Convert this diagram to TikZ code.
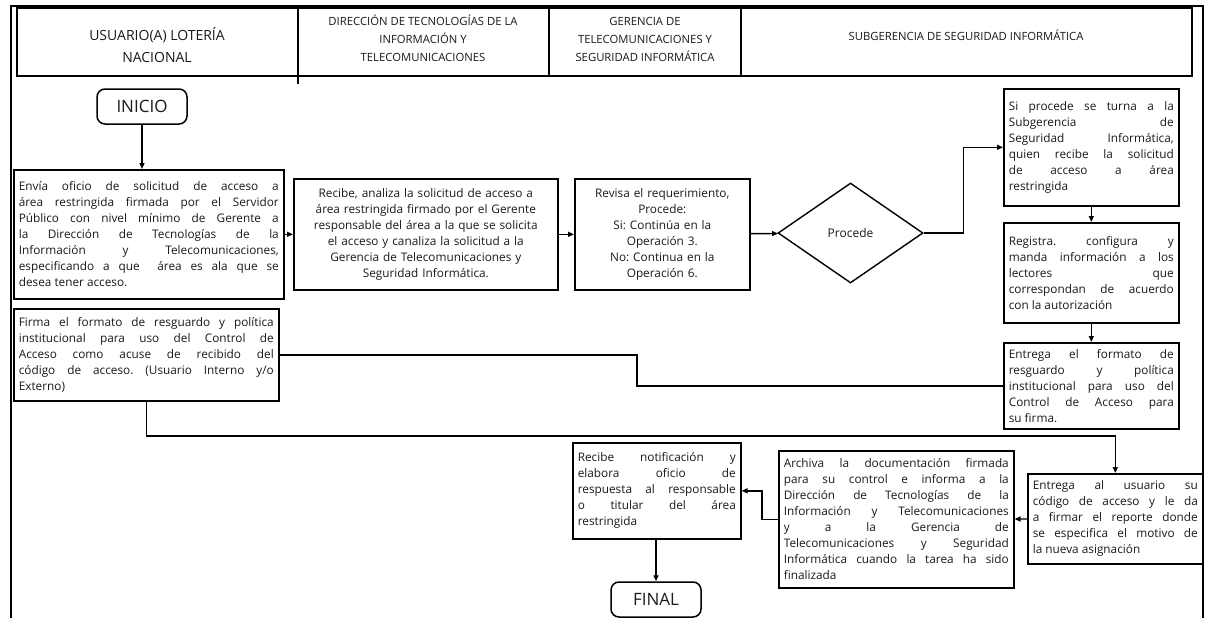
\documentclass[tikz,border=0pt]{standalone}
\usepackage{fontspec}
\setmainfont{Open Sans}
\usetikzlibrary{positioning, arrows.meta, shapes.geometric}
\frenchspacing
\newcommand\jset{\spaceskip=.26em plus 1fil\relax\xspaceskip=\spaceskip\relax\parfillskip=0pt plus 1fill\relax\hyphenpenalty=10000\relax}

\begin{document}
\begin{tikzpicture}[
    x=1pt, y=-1pt,
    every node/.style={text=black!90},
    lane/.style={align=center, inner sep=0pt, font=\fontsize{11.3}{18}\selectfont},
    term/.style={draw, line width=1.5pt, rounded corners=8pt, minimum width=90pt, minimum height=35pt, font=\fontsize{17}{20}\selectfont},
    proc/.style={draw, line width=1.6pt, inner sep=5pt, anchor=north west, font=\fontsize{11.8}{16}\selectfont},
    jproc/.style={proc, align=justify, font=\fontsize{11.8}{16}\selectfont\jset},
    cproc/.style={proc, align=center},
    decide/.style={draw, diamond, line width=1.4pt, inner sep=0pt, minimum width=145pt, minimum height=100pt, font=\fontsize{12}{14}\selectfont},
    arr/.style={-{Triangle[length=6pt,width=5pt]}, line width=1.4pt},
    link/.style={line width=1.4pt},
]
\useasboundingbox (0,0) rectangle (1206,618);

% Frame and lane header
\draw[line width=1.2pt] (11,618) -- (11,6) -- (1203,6) -- (1203,618);
\draw[line width=1.6pt] (17,8) rectangle (1192,76);
\draw[line width=1.4pt] (298,8) -- (298,84);
\draw[line width=1.4pt] (549,8) -- (549,76);
\draw[line width=1.4pt] (741,8) -- (741,76);

\node[lane, font=\fontsize{14}{22}\selectfont] (usr) at (157,45) {USUARIO(A) LOTERÍA\\NACIONAL};
\node[lane] (dtic) at (423,38) {DIRECCIÓN DE TECNOLOGÍAS DE LA\\INFORMACIÓN Y\\TELECOMUNICACIONES};
\node[lane] (gtsi) at (645,39) {GERENCIA DE\\TELECOMUNICACIONES Y\\SEGURIDAD INFORMÁTICA};
\node[lane] (ssi) at (966,35) {SUBGERENCIA DE SEGURIDAD INFORMÁTICA};

% Usuario: start
\node[term] (inicio) at (142,106.5) {INICIO};
\node[jproc, minimum width=270pt, minimum height=129pt, text width=260pt] (oficio) at (13,169) {Envía oficio de solicitud de acceso a\linebreak área restringida firmada por el Servidor\linebreak Público con nivel mínimo de Gerente a\linebreak la Dirección de Tecnologías de la\linebreak Información y Telecomunicaciones,\linebreak especificando a que~ área es ala que se\linebreak desea tener acceso.};

% DTIC and Gerencia
\node[cproc, minimum width=264pt, minimum height=111pt, text width=254pt] (analiza) at (293,178) {Recibe, analiza la solicitud de acceso a\\área restringida firmado por el Gerente\\responsable del área a la que se solicita\\el acceso y canaliza la solicitud a la\\Gerencia de Telecomunicaciones y\\Seguridad Informática.};
\node[cproc, minimum width=175pt, minimum height=111pt, text width=165pt] (revisa) at (574,178) {Revisa el requerimiento,\\Procede:\\Si: Continúa en la\\Operación 3.\\No: Continua en la\\Operación 6.};
\node[decide] (procede) at (850.5,233) {Procede};

% Subgerencia
\node[jproc, minimum width=175pt, minimum height=117pt, text width=165pt] (turna) at (1003,88) {Si procede se turna a la\linebreak Subgerencia de\linebreak Seguridad Informática,\linebreak quien recibe la solicitud\linebreak de acceso a área\linebreak restringida};
\node[jproc, minimum width=175pt, minimum height=100pt, text width=165pt] (registra) at (1003,222) {Registra. configura y\linebreak manda información a los\linebreak lectores que\linebreak correspondan de acuerdo\linebreak con la autorización};
\node[jproc, minimum width=175pt, minimum height=86pt, text width=165pt] (formato) at (1003,342) {Entrega el formato de\linebreak resguardo y política\linebreak institucional para uso del\linebreak Control de Acceso para\linebreak su firma.};
\node[jproc, minimum width=265pt, minimum height=92pt, text width=255pt] (firma) at (13,308) {Firma el formato de resguardo y política\linebreak institucional para uso del Control de\linebreak Acceso como acuse de recibido del\linebreak código de acceso. (Usuario Interno y/o\linebreak Externo)};
\node[jproc, minimum width=175pt, minimum height=90pt, text width=165pt] (codigo) at (1027,473) {Entrega al usuario su\linebreak código de acceso y le da\linebreak a firmar el reporte donde\linebreak se especifica el motivo de\linebreak la nueva asignación};
\node[jproc, minimum width=235pt, minimum height=137pt, text width=225pt] (archiva) at (778,450) {Archiva la documentación firmada\linebreak para su control e informa a la\linebreak Dirección de Tecnologías de la\linebreak Información y Telecomunicaciones\linebreak y a la Gerencia de\linebreak Telecomunicaciones y Seguridad\linebreak Informática cuando la tarea ha sido\linebreak finalizada};
\node[jproc, minimum width=168pt, minimum height=96pt, text width=158pt] (notifica) at (572,442) {Recibe notificación y\linebreak elabora oficio de\linebreak respuesta al responsable\linebreak o titular del área\linebreak restringida};
\node[term] (final) at (656,599.5) {FINAL};

\coordinate (jog) at (637,370);
\coordinate (turn) at (600,436);

% Connectors
\draw[arr] (inicio) -- (inicio |- oficio.north);
\draw[arr] (oficio.east |- analiza.west) -- (analiza.west);
\draw[arr] (analiza) -- (revisa);
\draw[arr] (revisa) -- (procede);
\draw[arr] (procede.east) -- ++(40pt,0) |- (turna.west);
\draw[arr] (turna) -- (registra);
\draw[arr] (registra) -- (formato);
\draw[link] (firma.east) -| (jog) |- (formato.west);
\draw[arr] (firma.south) |- (turn) -| (codigo.north);
\draw[arr] (codigo) -- (archiva);
\draw[arr] (archiva.west) -- ++(-16pt,0) |- (notifica.east);
\draw[arr] (notifica.south -| final) -- (final);
\end{tikzpicture}
\end{document}
